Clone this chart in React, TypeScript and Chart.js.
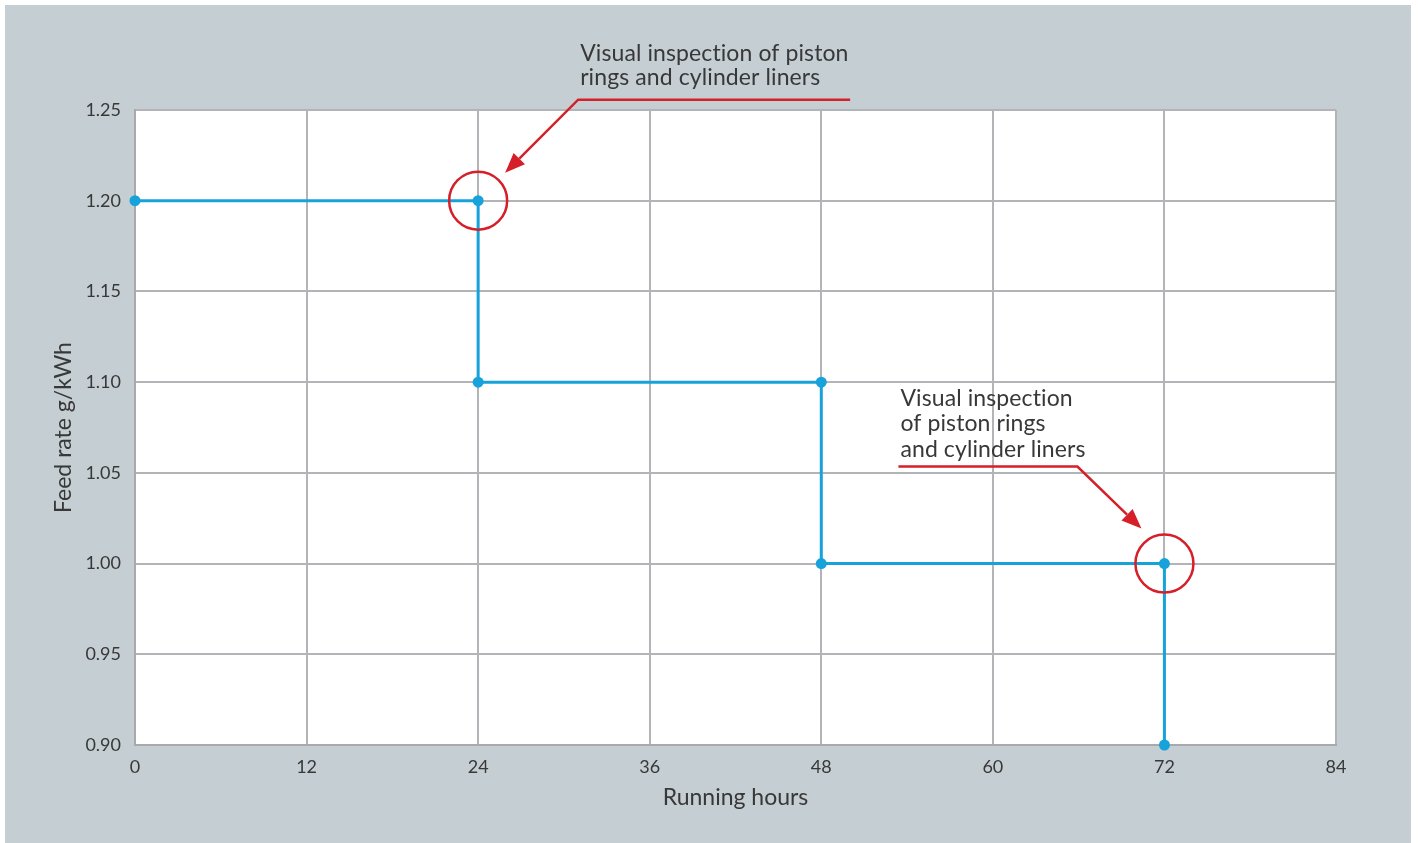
import React, { useEffect, useRef } from "react";
import { Chart, registerables } from "chart.js";

Chart.register(...registerables);

// ---- data ----
const runningHours = [0, 24, 24, 48, 48, 72, 72];
const feedRate = [1.2, 1.2, 1.1, 1.1, 1.0, 1.0, 0.9];
const xTickValues = [0, 12, 24, 36, 48, 60, 72, 84];
const yTickValues = [0.9, 0.95, 1.0, 1.05, 1.1, 1.15, 1.2, 1.25];
const xTitle = "Running hours";
const yTitle = "Feed rate g/kWh";
const noteHours = [24, 72];
const noteRates = [1.2, 1.0];
const noteTexts = [
  ["Visual inspection of piston", "rings and cylinder liners"],
  ["Visual inspection", "of piston rings", "and cylinder liners"],
];

// ---- styles ----
const PANEL = "#c5ced3";
const BLUE = "#17a2dc";
const RED = "#d51f29";
const GRID = "#b3b4b8";
const TEXT = "#383838";
const FONT = "Lato";

// annotation layout (pixel offsets relative to the marked data point)
const noteLayout = [
  { textDx: 102, textDy: -140, lineGap: 24.5, path: [[372, -101], [100, -101], [27, -28]] },
  { textDx: -264, textDy: -158, lineGap: 25.5, path: [[-266, -97], [-87, -97], [-23, -35]] },
];

const plotBg = {
  id: "plotBg",
  beforeDraw(chart: any) {
    const { ctx, chartArea } = chart;
    ctx.save();
    ctx.fillStyle = "#ffffff";
    ctx.fillRect(chartArea.left, chartArea.top, chartArea.right - chartArea.left, chartArea.bottom - chartArea.top);
    ctx.restore();
  },
};

const notes = {
  id: "notes",
  afterDraw(chart: any) {
    const { ctx } = chart;
    const xs = chart.scales.x;
    const ys = chart.scales.y;
    ctx.save();
    noteHours.forEach((h, i) => {
      const cx = xs.getPixelForValue(h);
      const cy = ys.getPixelForValue(noteRates[i]);
      const lay = noteLayout[i];
      // circle
      ctx.strokeStyle = RED;
      ctx.lineWidth = 2.5;
      ctx.beginPath();
      ctx.arc(cx, cy, 29, 0, Math.PI * 2);
      ctx.stroke();
      // leader line with arrow
      const pts = lay.path.map(([dx, dy]) => [cx + dx, cy + dy]);
      const tip = pts[pts.length - 1];
      const prev = pts[pts.length - 2];
      const ang = Math.atan2(tip[1] - prev[1], tip[0] - prev[0]);
      const headLen = 20;
      const headW = 8;
      const base = [tip[0] - headLen * Math.cos(ang), tip[1] - headLen * Math.sin(ang)];
      ctx.beginPath();
      ctx.moveTo(pts[0][0], pts[0][1]);
      for (let k = 1; k < pts.length - 1; k++) ctx.lineTo(pts[k][0], pts[k][1]);
      ctx.lineTo(base[0], base[1]);
      ctx.stroke();
      ctx.fillStyle = RED;
      ctx.beginPath();
      ctx.moveTo(tip[0], tip[1]);
      ctx.lineTo(base[0] + headW * Math.sin(ang), base[1] - headW * Math.cos(ang));
      ctx.lineTo(base[0] - headW * Math.sin(ang), base[1] + headW * Math.cos(ang));
      ctx.closePath();
      ctx.fill();
      // text
      ctx.fillStyle = TEXT;
      ctx.font = `23px ${FONT}`;
      (ctx as any).letterSpacing = "0.1px";
      ctx.textAlign = "left";
      ctx.textBaseline = "alphabetic";
      noteTexts[i].forEach((line, j) => {
        ctx.fillText(line, cx + lay.textDx, cy + lay.textDy + j * lay.lineGap);
      });
      (ctx as any).letterSpacing = "0px";
    });
    ctx.restore();
  },
};

export default function App() {
  const ref = useRef<HTMLCanvasElement>(null);
  useEffect(() => {
    if (!ref.current) return;
    const chart = new Chart(ref.current, {
      type: "scatter",
      data: {
        datasets: [
          {
            data: runningHours.map((h, i) => ({ x: h, y: feedRate[i] })),
            showLine: true,
            borderColor: BLUE,
            backgroundColor: BLUE,
            borderWidth: 3,
            pointRadius: 5.5,
            pointBorderWidth: 0,
            pointBackgroundColor: BLUE,
            clip: false as any,
          },
        ],
      },
      options: {
        animation: false,
        responsive: false,
        devicePixelRatio: 1,
        layout: { padding: { left: 0, top: 105, right: 75, bottom: 0 } },
        plugins: { legend: { display: false }, tooltip: { enabled: false } },
        scales: {
          x: {
            type: "linear",
            min: 0,
            max: 84,
            afterBuildTicks: (s: any) => {
              s.ticks = xTickValues.map((v) => ({ value: v }));
            },
            afterFit: (s: any) => {
              s.height = 98;
            },
            grid: { color: GRID, lineWidth: 2, drawTicks: false },
            border: { color: "#a8a9ad", width: 2 },
            ticks: {
              padding: 11,
              color: TEXT,
              font: { family: FONT, size: 18 },
              maxRotation: 0,
            },
            title: {
              display: true,
              text: xTitle,
              color: TEXT,
              font: { family: FONT, size: 23 },
              padding: { top: 0, bottom: 32 },
            },
          },
          y: {
            type: "linear",
            min: 0.9,
            max: 1.25,
            afterBuildTicks: (s: any) => {
              s.ticks = yTickValues.map((v) => ({ value: v }));
            },
            afterFit: (s: any) => {
              s.width = 130;
            },
            grid: { color: GRID, lineWidth: 2, drawTicks: false },
            border: { color: "#a8a9ad", width: 2 },
            ticks: {
              padding: 14,
              color: TEXT,
              font: { family: FONT, size: 18 },
              callback: (v: any) => Number(v).toFixed(2),
            },
            title: {
              display: true,
              text: yTitle,
              color: TEXT,
              font: { family: FONT, size: 23 },
              padding: { top: 45, bottom: 0 },
            },
          },
        },
      },
      plugins: [plotBg, notes],
    });
    return () => chart.destroy();
  }, []);

  return (
    <div style={{ position: "absolute", left: 0, top: 0, width: 1418, height: 843, background: "#ffffff", overflow: "hidden" }}>
      <div style={{ position: "absolute", left: 5, top: 5, width: 1406, height: 838, background: PANEL }}>
        <canvas ref={ref} width={1406} height={838} style={{ display: "block", width: 1406, height: 838 }} />
      </div>
    </div>
  );
}
